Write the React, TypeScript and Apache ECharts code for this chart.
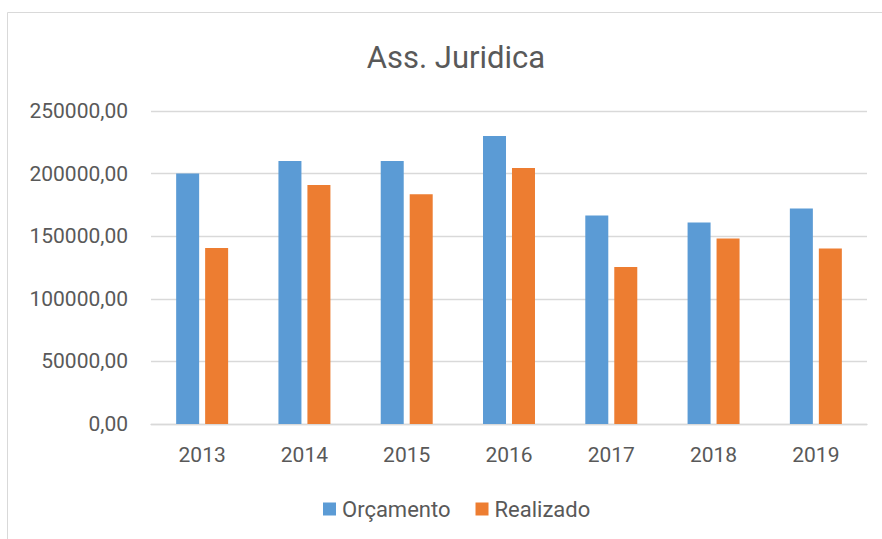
import React, { useEffect, useRef } from "react";
import * as echarts from "echarts";

const categories = ["2013", "2014", "2015", "2016", "2017", "2018", "2019"];
const orcamento = [200000, 210000, 210000, 230000, 166600, 161000, 172200];
const realizado = [140500, 190800, 183600, 204400, 125300, 148200, 140200];
const seriesNames = ["Orçamento", "Realizado"];
const titleText = "Ass. Juridica";

const FONT = "Roboto";
const GRAY = "#595959";

export default function App() {
  const ref = useRef<HTMLDivElement>(null);
  useEffect(() => {
    if (!ref.current) return;
    const chart = echarts.init(ref.current, undefined, { renderer: "svg" });
    chart.setOption({
      animation: false,
      backgroundColor: "#ffffff",
      title: {
        text: titleText,
        left: 451,
        textAlign: "center",
        top: 37,
        textStyle: { fontFamily: FONT, fontSize: 31, fontWeight: "normal", color: GRAY },
      },
      graphic: [
        {
          type: "rect",
          shape: { x: 7.5, y: 12.5, width: 1000, height: 700 },
          style: { fill: "none", stroke: "#d9d9d9", lineWidth: 1 },
          silent: true,
          z: -1,
        },
      ],
      legend: {
        data: seriesNames,
        left: 323,
        top: 498,
        padding: 0,
        icon: "rect",
        itemWidth: 13,
        itemHeight: 13,
        itemGap: 25,
        textStyle: { fontFamily: FONT, fontSize: 22, color: GRAY, padding: [0, 0, 0, 1] },
      },
      grid: { left: 151, right: 15, top: 111, bottom: 115, containLabel: false },
      xAxis: {
        type: "category",
        data: categories,
        axisTick: { show: false },
        axisLine: { lineStyle: { color: "#d9d9d9", width: 1.3 } },
        axisLabel: { fontFamily: FONT, fontSize: 21, color: GRAY, margin: 20 },
      },
      yAxis: {
        type: "value",
        min: 0,
        max: 250000,
        interval: 50000,
        axisLine: { show: false },
        axisTick: { show: false },
        splitLine: { lineStyle: { color: "#d9d9d9", width: 1.3 } },
        axisLabel: {
          fontFamily: FONT,
          fontSize: 21,
          color: GRAY,
          margin: 23,
          formatter: (v: number) => v.toFixed(2).replace(".", ","),
        },
      },
      series: [
        {
          name: seriesNames[0],
          type: "bar",
          data: orcamento,
          barWidth: 23,
          barGap: "26%",
          itemStyle: { color: "#5B9BD5" },
        },
        {
          name: seriesNames[1],
          type: "bar",
          data: realizado,
          barWidth: 23,
          barGap: "26%",
          itemStyle: { color: "#ED7D31" },
        },
      ],
    });
    return () => chart.dispose();
  }, []);
  return (
    <div
      ref={ref}
      style={{ position: "absolute", left: 0, top: 0, width: 882, height: 539 }}
    />
  );
}
